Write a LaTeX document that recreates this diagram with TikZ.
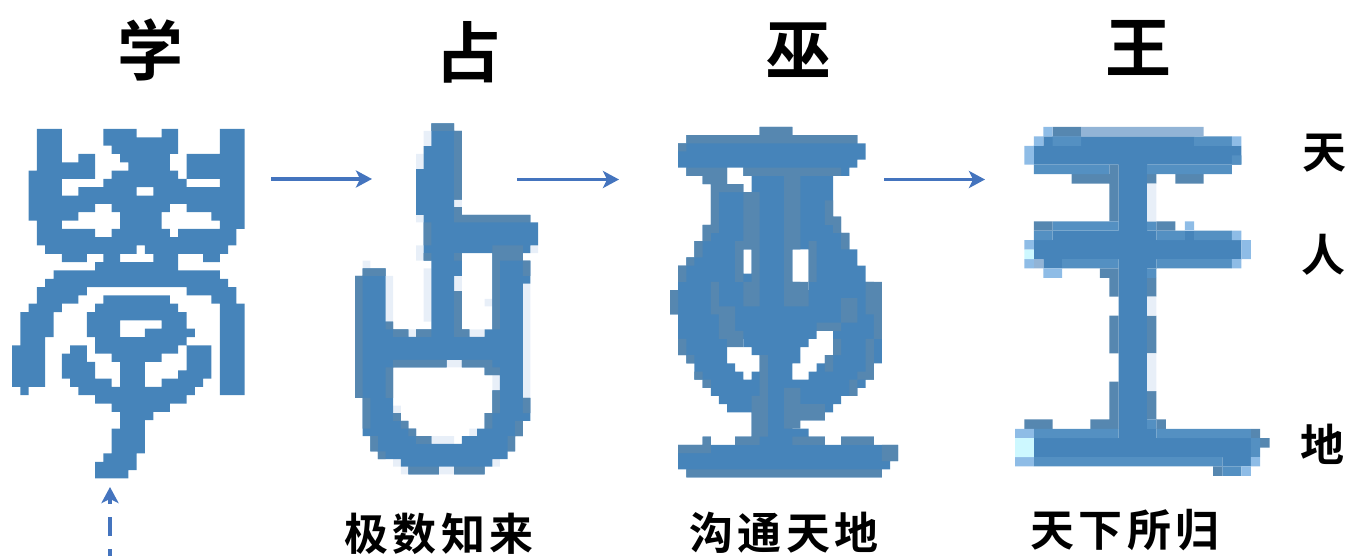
\documentclass[tikz,border=0pt]{standalone}
\usepackage{fontspec}
\usetikzlibrary{arrows.meta}
\newfontfamily\cjkbold{Noto Sans CJK SC Bold}
\newfontfamily\cjkmid[LetterSpace=10]{Noto Sans CJK SC Bold}
\newfontfamily\cjkside{Noto Sans CJK SC Bold}
\definecolor{glyphblue}{RGB}{70,132,186}
\definecolor{glyphdark}{RGB}{86,135,176}
\definecolor{glyphmid}{RGB}{84,144,194}
\definecolor{glyphlight}{RGB}{142,188,230}
\definecolor{glyphgrey}{RGB}{146,180,214}
\definecolor{glyphcyan}{RGB}{205,248,255}
\definecolor{glyphpale}{RGB}{232,239,248}
\definecolor{arrowblue}{RGB}{68,116,190}
\tikzset{
  flowarrow/.style={arrowblue,line width=3.8pt,-{Stealth[length=16pt,width=17pt,inset=4pt]}},
  riselink/.style={flowarrow,dash pattern=on 19pt off 13pt,dash phase=12pt},
  titlechar/.style={font=\cjkbold\fontsize{66}{66}\selectfont},
  captiontext/.style={font=\cjkmid\fontsize{44}{44}\selectfont},
  sidechar/.style={font=\cjkside\fontsize{44}{44}\selectfont},
}
\newcommand{\pixrows}[2]{\fill[#1] \foreach \r/\runs in {#2} {\foreach \a/\b in \runs {(\a,\r) rectangle ++(\b-\a,1)}};}
\newcommand{\pixcells}[2]{\fill[#1] \foreach \a/\r/\b/\s in {#2} {(\a,\r) rectangle (\b,\s)};}
\begin{document}
\begin{tikzpicture}[x=1pt,y=-1pt]
	\useasboundingbox (0,0) rectangle (1349,556);

	\begin{scope}[shift={(12,129)},x=8.31pt,y=-8.32pt]
		\pixrows{glyphblue}{0/{3/6,11/15,18/20,25/28},1/{3/6,11/20,25/28},2/{3/6,12/20,25/28},3/{3/6,8/10,13/19,21/28},
		4/{3/10,14/19,21/28},5/{2/10,12/20,21/28},6/{2/6,11/21,25/28},7/{2/6,8/15,17/28},8/{2/28},
		9/{2/10,12/19,21/28},10/{2/8,13/18,24/28},11/{3/6,13/18,25/28},12/{3/10,12/19,20/27},13/{3/27},
		14/{4/15,16/26},15/{6/9,11/13,17/20,23/25},16/{10/20},17/{5/25},18/{4/26},19/{3/9,21/27},
		20/{3/8,11/19,24/27},21/{2/6,10/20,25/28},22/{1/5,9/21,25/28},23/{1/5,9/13,18/21,25/28},
		24/{1/5,9/13,16/22,25/28},25/{1/4,10/21,25/28},26/{0/4,7/9,10/20,21/24,25/28},
		27/{0/4,6/9,12/18,21/24,25/28},28/{0/4,6/10,13/16,21/24,25/28},29/{0/4,6/10,13/16,20/24,25/28},
		30/{0/4,7/12,13/16,18/23,25/28},31/{1/2,8/22,25/28},32/{10/21},33/{12/19},34/{13/17},35/{13/16},
		36/{12/16},37/{12/16},38/{12/16},39/{11/15},40/{10/15},41/{10/14}}
	\end{scope}

	\begin{scope}[shift={(355,123.3)},x=7.63pt,y=-7.63pt]
		\pixcells{glyphpale}{1/18/2/19,4/20/5/26,9/19/10/26,13/19/14/22,22/21/23/36,7/27/8/28,15/27/17/28,12/31/14/32,
		9/1/10/3,8/4/9/6,8/12/9/13,8/16/9/18,23/16/24/17,5/37/6/38,18/33/19/35,10/41/13/42,15/40/16/41,5/44/6/45,6/45/7/46,11/45/13/46,18/44/19/45,13/10/14/11,17/23/18/24}
		\pixrows{glyphblue}{0/{10/13},1/{10/14},2/{10/14},3/{9/14},4/{9/14},5/{9/14},6/{8/14},7/{8/14},8/{8/14},9/{8/14},
		10/{8/13},11/{8/14},12/{9/23},13/{9/24},14/{9/24},15/{9/24},16/{9/23},17/{9/14,18/22},18/{10/14,18/23},
		19/{1/4,10/14,18/23},20/{0/4,10/13,18/23},21/{0/4,10/13,18/22},22/{0/4,10/14,18/22},23/{0/4,10/14,18/22},
		24/{0/4,10/14,18/22},25/{0/4,10/14,18/22},26/{0/5,10/14,18/22},27/{0/7,8/15,17/22},28/{0/22},29/{0/22},30/{0/22},
		31/{0/12,14/22},32/{0/5,17/22},33/{0/5,19/22},34/{0/5,19/22},35/{0/5,18/22},36/{1/5,18/23},37/{1/5,18/23},
		38/{1/6,17/23},39/{1/7,17/22},40/{1/8,16/22},41/{2/10,14/21},42/{2/21},43/{3/20},44/{6/18},45/{7/11,13/17}}
		\pixcells{glyphdark}{10/0/13/1,13/1/14/10,13/11/14/12,0/20/1/36,1/19/4/20,4/26/5/27,5/27/7/28,8/27/10/28,13/22/14/27,13/27/15/28,
		9/13/10/16,9/17/10/18,13/17/14/18,13/12/23/13,18/16/22/18,18/18/19/27,22/18/23/20,5/31/12/32,14/31/18/32,17/32/19/33,4/32/5/36,
		1/36/2/40,5/38/6/39,6/39/7/40,7/40/8/41,8/41/10/42,18/35/19/38,22/36/23/38,17/38/18/40,21/39/22/41,2/41/3/43,20/41/21/43,3/43/4/44,7/45/11/46,13/45/17/46}
	\end{scope}

	\begin{scope}[shift={(670,127)},x=8.15pt,y=-8.15pt]
		\pixrows{glyphblue}{0/{11/15},1/{2/23},2/{1/24},3/{1/24},4/{1/23},5/{2/7,9/22},6/{4/7,10/20},7/{5/9,10/20},8/{5/20},
		9/{5/20},10/{5/20},11/{5/21},12/{4/21},13/{4/22},14/{3/22},15/{3/9,10/15,17/23},16/{2/9,10/15,17/23},
		17/{1/9,10/15,17/24},18/{1/15,17/24},19/{1/16,17/25},20/{0/25},21/{0/26},22/{0/26},23/{1/26},24/{1/26},
		25/{1/18,20/26},26/{1/7,9/17,20/26},27/{1/7,10/16,20/26},28/{2/7,11/16,19/26},29/{3/8,11/15,18/25},
		30/{3/9,10/15,17/25},31/{4/24},32/{5/23},33/{6/21},34/{7/20},35/{10/19},36/{10/15},37/{10/17},
		38/{4/5,8/19,21/25},39/{1/28},40/{1/28},41/{1/27},42/{2/26}}
		\pixcells{glyphdark}{11/0/15/1,2/1/23/2,1/2/2/3,2/5/7/6,9/5/21/6,4/6/7/7,5/7/9/8,9/8/11/15,14/5/16/15,5/8/6/13,4/12/5/14,3/14/4/16,
		2/16/3/17,1/17/2/19,19/9/20/12,20/11/21/13,21/13/22/15,8/14/9/19,10/15/11/20,14/15/15/20,17/14/18/19,9/19/11/22,14/19/17/22,
		5/19/6/23,6/22/8/26,7/25/9/27,21/21/23/24,19/24/21/25,0/20/1/23,24/19/26/23,25/21/26/26,18/24/19/25,20/26/21/28,19/28/20/30,
		1/26/2/28,2/28/3/29,3/30/4/31,4/31/5/32,24/26/25/30,23/30/25/31,22/31/23/33,10/33/12/38,11/28/12/33,14/32/16/37,16/34/19/36,
		4/38/5/39,8/38/11/39,15/38/19/39,21/38/25/39,1/39/5/40,26/39/28/41,2/42/26/43}
	\end{scope}

	\begin{scope}[shift={(1015,127)},x=9.43pt,y=-9.43pt]
		\pixcells{glyphblue}{11/4/14/33,2/2/24/4,3/1/19/2,2/12/24/14,4/11/15/12,3/14/5/15,11/14/15/15,2/33/25/35,11/32/15/33,22/35/25/36}
		\pixcells{glyphdark}{4/0/7/1,6/5/11/6,14/5/15/6,17/5/20/6,10/4/11/10,2/10/4/11,15/10/17/11,9/15/11/16,10/16/11/18,14/16/15/18,
		10/20/11/24,14/20/15/24,10/27/11/31,14/28/15/31,1/31/4/32,8/31/11/32,15/31/16/32,25/32/26/33,26/33/27/34,21/36/22/37}
		\pixcells{glyphmid}{4/1/7/2,19/1/23/2,2/4/10/5,14/4/23/5,23/3/24/4,4/10/11/11,14/10/15/11,2/11/4/12,15/11/18/12,19/11/23/12,
		5/14/11/15,15/14/23/15,14/15/15/16,2/32/11/33,15/32/25/33,14/31/15/32,25/33/26/35,2/35/22/36,22/36/24/37}
		\pixcells{glyphgrey}{7/0/20/1,2/14/3/15}
		\pixcells{glyphlight}{3/0/4/1,2/1/3/2,23/1/24/2,1/2/2/4,18/10/19/11,23/11/24/12,1/12/2/13,24/12/25/14,1/14/2/15,23/14/24/15,3/15/5/16,
		0/32/2/33,0/35/2/36,25/35/26/36,24/36/25/37}
		\pixcells{glyphblue}{18/11/19/12}
		\pixcells{glyphpale}{14/6/15/10,14/18/15/20,14/24/15/28}
		\pixcells{glyphcyan}{1/13/2/14,0/33/2/35}
	\end{scope}

	\coordinate (xue-out) at (271,179);
	\coordinate (zhan-in) at (372,179);
	\coordinate (zhan-out) at (517,179.5);
	\coordinate (wu-in) at (619,179.5);
	\coordinate (wu-out) at (884,179.5);
	\coordinate (wang-in) at (985,179.5);
	\coordinate (rise-in) at (110,487);
	\coordinate (rise-out) at (110,556);

	\draw[flowarrow] (xue-out) -- (zhan-in);
	\draw[flowarrow] (zhan-out) -- (wu-in);
	\draw[flowarrow] (wu-out) -- (wang-in);
	\draw[riselink] (rise-out) -- (rise-in);

	\node[titlechar] (xue) at (150,50) {学};
	\node[titlechar] (zhan) at (468,52) {占};
	\node[titlechar] (wu) at (798,50) {巫};
	\node[titlechar] (wang) at (1138,48) {王};

	\node[captiontext] (zhan-cap) at (439,534) {极数知来};
	\node[captiontext] (wu-cap) at (784,533) {沟通天地};
	\node[captiontext] (wang-cap) at (1125,530) {天下所归};

	\node[sidechar] (tian) at (1324,153) {天};
	\node[sidechar] (ren) at (1323,255) {人};
	\node[sidechar] (di) at (1322,444) {地};
\end{tikzpicture}
\end{document}
